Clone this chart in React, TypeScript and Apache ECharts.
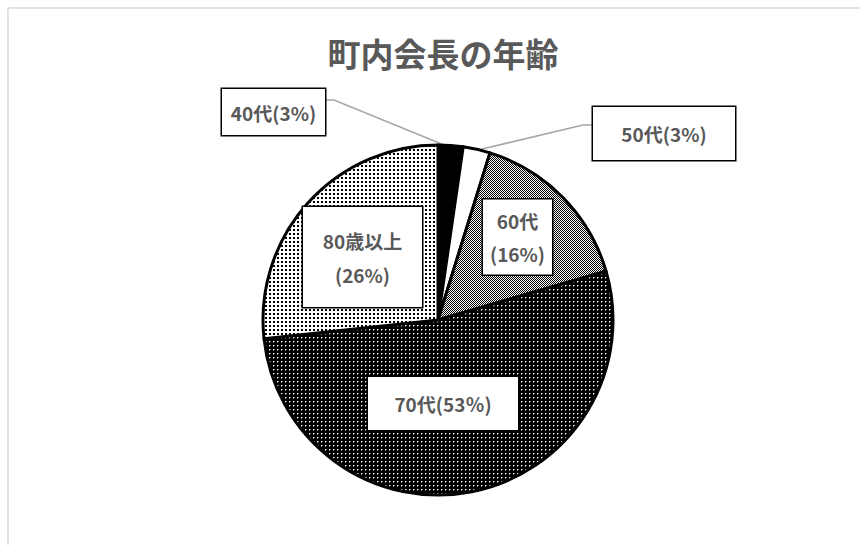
import React, { useEffect, useRef } from "react";
import * as echarts from "echarts";

const categories = ["40代", "50代", "60代", "70代", "80歳以上"];
const shares = [2.3, 2.5, 15.7, 52.8, 26.7];
const labelTexts = ["40代(3%)", "50代(3%)", "60代\n(16%)", "70代(53％)", "80歳以上\n(26%)"];
const chartTitle = "町内会長の年齢";

// label box layout (center x, center y, width, height) — presentation only
const labelBoxes = [
  { cx: 273.5, cy: 112, w: 103, h: 46, lh: 22, inside: false, line: [[326, 100], [334, 100], [449, 147]] },
  { cx: 664, cy: 133.5, w: 142, h: 53, lh: 22, inside: false, line: [[593, 125], [583, 125], [478, 150]] },
  { cx: 517.5, cy: 237, w: 69, h: 75, lh: 33, inside: true, line: null },
  { cx: 443, cy: 403.5, w: 150, h: 53, lh: 22, inside: true, line: null },
  { cx: 362.5, cy: 257, w: 119, h: 100, lh: 34, inside: true, line: null },
];

function makePattern(size: number, bg: string, fg: string, pts: any[][]) {
  const c = document.createElement("canvas");
  c.width = size;
  c.height = size;
  const ctx = c.getContext("2d")!;
  ctx.fillStyle = bg;
  ctx.fillRect(0, 0, size, size);
  pts.forEach(([x, y, w, h, col]) => {
    ctx.fillStyle = col || fg;
    ctx.fillRect(x, y, w || 1, h || 1);
  });
  return { image: c, repeat: "repeat", imageWidth: size, imageHeight: size } as any;
}

export default function App() {
  const ref = useRef<HTMLDivElement>(null);
  useEffect(() => {
    document.body.style.margin = "0";
    const chart = echarts.init(ref.current!, undefined, { renderer: "svg" });
    const fills = [
      "#000000",
      "#ffffff",
      makePattern(2, "#ffffff", "#000000", [[0, 0], [1, 1]]),
      makePattern(4, "#000000", "#ffffff", [
        [1, 1], [2, 1, 1, 1, "#7a7a7a"], [1, 2, 1, 1, "#7a7a7a"],
      ]),
      makePattern(4, "#ffffff", "#000000", [[1, 1, 2, 2]]),
    ];
    const font = "'Noto Sans CJK JP', 'Noto Sans', sans-serif";
    const data = categories.map((name, i) => {
      const b = labelBoxes[i];
      const lines = labelTexts[i].split("\n").length;
      const pv = (b.h - lines * b.lh) / 2;
      return {
        name,
        value: shares[i],
        itemStyle: { color: fills[i] },
        label: {
          position: b.inside ? "inside" : "outside",
          width: b.w,
          lineHeight: b.lh,
          padding: [pv, 0, pv, 0],
          align: "center",
        },
        labelLine: { show: !b.inside },
      };
    });
    chart.setOption({
      animation: false,
      backgroundColor: "#ffffff",
      title: {
        text: chartTitle,
        left: 438,
        top: 30,
        textAlign: "center",
        textStyle: {
          fontFamily: font,
          fontSize: 33,
          fontWeight: "bold",
          color: "#595959",
          lineHeight: 36,
        },
      },
      graphic: [
        { type: "line", shape: { x1: 8, y1: 8, x2: 860, y2: 8 }, style: { stroke: "#d9d9d9", lineWidth: 1.5 } },
        { type: "line", shape: { x1: 8, y1: 8, x2: 8, y2: 545 }, style: { stroke: "#d9d9d9", lineWidth: 1.5 } },
      ],
      series: [
        {
          type: "pie",
          center: [438, 320],
          radius: [0, 175],
          startAngle: 90,
          clockwise: true,
          avoidLabelOverlap: false,
          itemStyle: { borderColor: "#000000", borderWidth: 3 },
          emphasis: { disabled: true },
          label: {
            show: true,
            formatter: (p: any) => labelTexts[p.dataIndex],
            fontFamily: font,
            fontSize: 19,
            fontWeight: "bold",
            color: "#595959",
            backgroundColor: "#ffffff",
            borderColor: "#000000",
            borderWidth: 1.5,
            overflow: "none",
          },
          labelLine: {
            show: true,
            lineStyle: { color: "#a6a6a6", width: 1.5 },
            length: 20,
            length2: 10,
          },
          labelLayout: (p: any) => {
            const b = labelBoxes[p.dataIndex];
            const r: any = { x: b.cx, y: b.cy, align: "center", verticalAlign: "middle" };
            if (b.line) r.labelLinePoints = b.line;
            return r;
          },
          data,
        },
      ],
    });
    return () => chart.dispose();
  }, []);
  return <div ref={ref} style={{ position: "absolute", left: 0, top: 0, width: 860, height: 545 }} />;
}
